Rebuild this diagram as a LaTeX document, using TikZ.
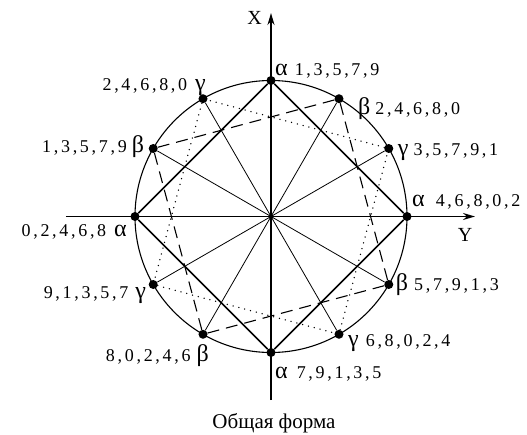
\documentclass[tikz,border=0pt]{standalone}
\usepackage{fontspec}
\setmainfont{Liberation Serif}
\newfontfamily\digitfont[LetterSpace=15]{Liberation Serif}
\usetikzlibrary{arrows.meta,positioning,calc}
\tikzstyle{axis} = [line width=1.8pt, -{Stealth[length=12pt,width=7pt]}]
\tikzstyle{spoke} = [line width=0.8pt]
\tikzstyle{rim} = [line width=1.1pt]
\tikzstyle{alphaline} = [line width=1.6pt]
\tikzstyle{betaline} = [line width=1.1pt, dash pattern=on 12pt off 7pt]
\tikzstyle{gammaline} = [line width=1.5pt, dash pattern=on 0pt off 6pt, line cap=round]
\tikzstyle{pnt} = [circle, fill=black, inner sep=0pt, minimum size=9pt]
\tikzstyle{lbl} = [inner sep=0pt, font=\fontsize{18}{18}\digitfont]
\tikzstyle{axlbl} = [inner sep=0pt, font=\fontsize{20}{20}\rmfamily]
\newcommand{\gl}[1]{{\fontsize{24}{24}\rmfamily #1}}

\begin{document}
\begin{tikzpicture}[x=1pt, y=1pt]
    \useasboundingbox (-271,-217.5) rectangle (256,216.5);
    \coordinate (o) at (0,0);
    \coordinate (yend) at (-205,0);
    \coordinate (ytip) at (204,0);
    \coordinate (xend) at (0,-183.5);
    \coordinate (xtip) at (0,203.5);

    % points on the circle
    \node[pnt] (a0) at (0:136) {};
    \node[pnt] (g30) at (30:136) {};
    \node[pnt] (b60) at (60:136) {};
    \node[pnt] (a90) at (90:136) {};
    \node[pnt] (g120) at (120:136) {};
    \node[pnt] (b150) at (150:136) {};
    \node[pnt] (a180) at (180:136) {};
    \node[pnt] (g210) at (210:136) {};
    \node[pnt] (b240) at (240:136) {};
    \node[pnt] (a270) at (270:136) {};
    \node[pnt] (g300) at (300:136) {};
    \node[pnt] (b330) at (330:136) {};

    \draw[rim] (o) circle[radius=136pt];
    \draw[spoke] (o) -- (g30) (o) -- (b60) (o) -- (g120) (o) -- (b150)
        (o) -- (g210) (o) -- (b240) (o) -- (g300) (o) -- (b330);
    \draw[axis] (yend) -- (ytip);
    \draw[axis] (xend) -- (xtip);

    \draw[alphaline] (a0) -- (a90) -- (a180) -- (a270) -- (a0);
    \draw[betaline] (b60) -- (b150) -- (b240) -- (b330) -- (b60);
    \draw[gammaline] (g30) -- (g120) -- (g210) -- (g300) -- (g30);

    % labels
    \node[axlbl, anchor=base east] (xlbl) at ([shift={(-9,-12)}]xtip) {X};
    \node[axlbl, anchor=base] (ylbl) at ([shift={(-10,-25)}]ytip) {Y};

    \node[lbl, anchor=base west] (la90) at ([shift={(4,5)}]a90.center) {\gl{α}\hspace{7pt}1,3,5,7,9};
    \node[lbl, anchor=base west] (lb60) at ([shift={(19,-16)}]b60.center) {\gl{β}\hspace{5pt}2,4,6,8,0};
    \node[lbl, anchor=base west] (lg30) at ([shift={(9,-7)}]g30.center) {\gl{γ}\hspace{5pt}3,5,7,9,1};
    \node[lbl, anchor=base west] (la0) at ([shift={(5,10)}]a0.center) {\gl{α}\hspace{11pt}4,6,8,0,2};
    \node[lbl, anchor=base west] (lb330) at ([shift={(7,-6)}]b330.center) {\gl{β}\hspace{6pt}5,7,9,1,3};
    \node[lbl, anchor=base west] (lg300) at ([shift={(9,-12)}]g300.center) {\gl{γ}\hspace{7pt}6,8,0,2,4};
    \node[lbl, anchor=base west] (la270) at ([shift={(4,-26)}]a270.center) {\gl{α}\hspace{9pt}7,9,1,3,5};
    \node[lbl, anchor=base east] (lb240) at ([shift={(6,-27)}]b240.center) {8,0,2,4,6\hspace{6pt}\gl{β}};
    \node[lbl, anchor=base east] (lg210) at ([shift={(-7,-14)}]g210.center) {9,1,3,5,7\hspace{7pt}\gl{γ}};
    \node[lbl, anchor=base east] (la180) at ([shift={(-8,-20)}]a180.center) {0,2,4,6,8\hspace{8pt}\gl{α}};
    \node[lbl, anchor=base east] (lb150) at ([shift={(-9,-4)}]b150.center) {1,3,5,7,9\hspace{5pt}\gl{β}};
    \node[lbl, anchor=base east] (lg120) at ([shift={(3,8)}]g120.center) {2,4,6,8,0\hspace{8pt}\gl{γ}};

    \node[axlbl, anchor=base, font=\fontsize{21}{21}\rmfamily] (caption) at ([shift={(3,-28)}]xend) {Общая форма};
\end{tikzpicture}
\end{document}
